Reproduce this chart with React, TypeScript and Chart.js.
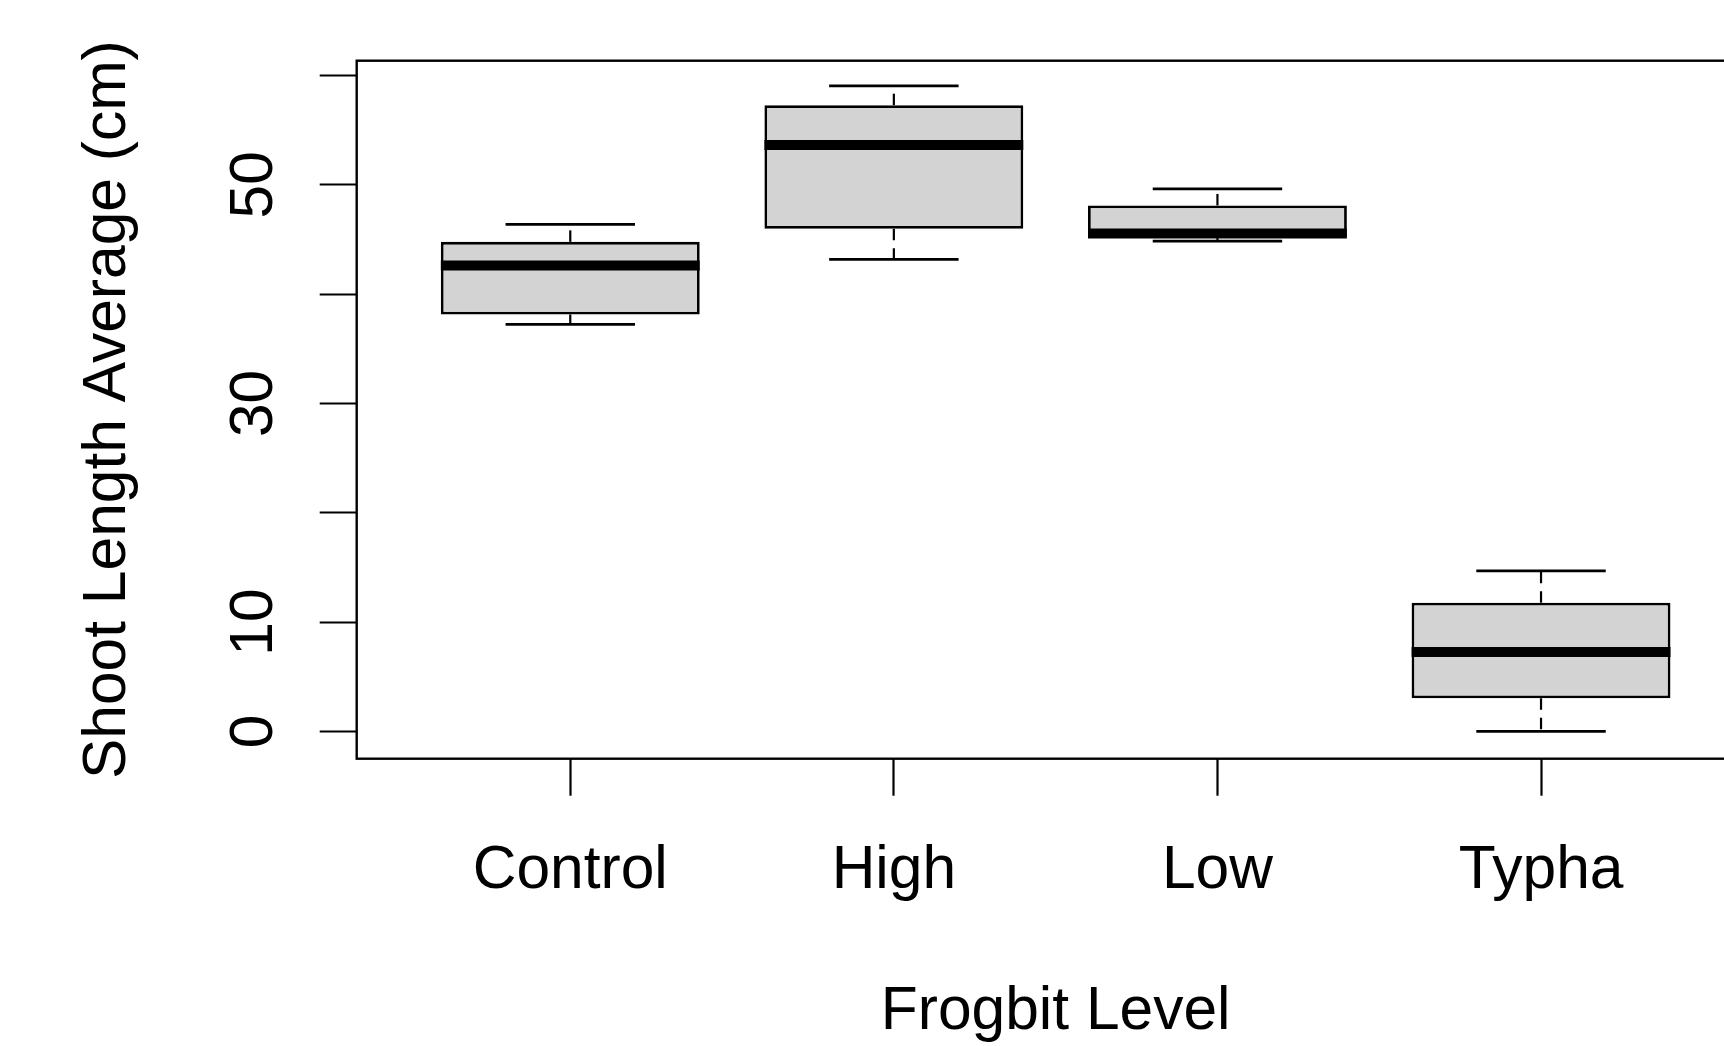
import React, { useEffect, useRef } from "react";
import { Chart, registerables } from "chart.js";

Chart.register(...registerables);

const categories = ["Control", "High", "Low", "Typha"];
const positions = [1, 2, 3, 4];
const lowerWhisker = [37.23, 43.17, 44.85, 0];
const q1 = [38.14, 45.97, 45.24, 3.02];
const median = [42.62, 53.65, 45.55, 7.25];
const q3 = [44.78, 57.28, 48.11, 11.76];
const upperWhisker = [46.38, 59.05, 49.63, 14.69];
const yTicks = [0, 10, 20, 30, 40, 50, 60];
const yTickLabels = [0, 10, 30, 50];

const FONT = "'Liberation Sans', Arial, sans-serif";
const FS = 60.5;

const boxPlugin = {
  id: "rboxplot",
  afterDatasetsDraw(chart: any) {
    const { ctx, chartArea, scales } = chart;
    const x = scales.x;
    const y = scales.y;
    ctx.save();
    ctx.strokeStyle = "#000";
    ctx.lineCap = "butt";
    positions.forEach((p, i) => {
      const cx = x.getPixelForValue(p);
      // dashed whiskers
      ctx.lineWidth = 2.2;
      ctx.setLineDash([11.5, 8]);
      ctx.beginPath();
      ctx.moveTo(cx, y.getPixelForValue(q3[i]));
      ctx.lineTo(cx, y.getPixelForValue(upperWhisker[i]));
      ctx.stroke();
      ctx.beginPath();
      ctx.moveTo(cx, y.getPixelForValue(q1[i]));
      ctx.lineTo(cx, y.getPixelForValue(lowerWhisker[i]));
      ctx.stroke();
      // caps
      ctx.setLineDash([]);
      ctx.lineWidth = 2.7;
      const cl = x.getPixelForValue(p - 0.2);
      const cr = x.getPixelForValue(p + 0.2);
      ctx.beginPath();
      ctx.moveTo(cl, y.getPixelForValue(upperWhisker[i]));
      ctx.lineTo(cr, y.getPixelForValue(upperWhisker[i]));
      ctx.moveTo(cl, y.getPixelForValue(lowerWhisker[i]));
      ctx.lineTo(cr, y.getPixelForValue(lowerWhisker[i]));
      ctx.stroke();
      // median
      ctx.lineWidth = 10;
      ctx.beginPath();
      ctx.moveTo(x.getPixelForValue(p - 0.4), y.getPixelForValue(median[i]));
      ctx.lineTo(x.getPixelForValue(p + 0.4), y.getPixelForValue(median[i]));
      ctx.stroke();
    });
    // frame
    ctx.lineWidth = 2.4;
    ctx.strokeRect(
      chartArea.left,
      chartArea.top,
      chartArea.right - chartArea.left,
      chartArea.bottom - chartArea.top
    );
    ctx.restore();
  },
};

export default function App() {
  const ref = useRef<HTMLCanvasElement | null>(null);

  useEffect(() => {
    if (!ref.current) return;
    const chart = new Chart(ref.current, {
      type: "bar",
      data: {
        datasets: [
          {
            data: positions.map((p, i) => ({ x: p, y: [q1[i], q3[i]] })) as any,
            backgroundColor: "#D3D3D3",
            borderColor: "#000",
            borderWidth: 2.8,
            borderSkipped: false,
            categoryPercentage: 0.8,
            barPercentage: 1.0,
          },
        ],
      },
      options: {
        responsive: false,
        animation: false,
        events: [],
        layout: { padding: { left: 0, top: 60.7, right: 5.4, bottom: 0 } },
        plugins: {
          legend: { display: false },
          tooltip: { enabled: false },
        },
        scales: {
          x: {
            type: "linear",
            min: 0.34,
            max: 4.66,
            offset: false,
            afterBuildTicks: (scale: any) => {
              scale.ticks = positions.map((v) => ({ value: v }));
            },
            afterFit: (scale: any) => {
              scale.height = 1046 - 758.7;
              scale.paddingLeft = 0;
              scale.paddingRight = 0;
            },
            grid: {
              offset: false,
              drawOnChartArea: false,
              drawTicks: true,
              tickLength: 37,
              tickWidth: 2.2,
              tickColor: "#000",
            },
            border: { display: false },
            ticks: {
              autoSkip: false,
              maxRotation: 0,
              minRotation: 0,
              padding: 39.3,
              color: "#000",
              font: { family: FONT, size: FS },
              callback: (v: any) => {
                const idx = positions.indexOf(Number(v));
                return idx >= 0 ? categories[idx] : "";
              },
            },
            title: {
              display: true,
              text: "Frogbit Level",
              color: "#000",
              font: { family: FONT, size: FS, lineHeight: 1.1 },
              padding: { top: 0, bottom: 0 },
            },
          },
          y: {
            type: "linear",
            min: -2.5,
            max: 61.35,
            afterBuildTicks: (scale: any) => {
              scale.ticks = yTicks.map((v) => ({ value: v }));
            },
            afterFit: (scale: any) => {
              scale.width = 356.7;
              scale.paddingTop = 0;
              scale.paddingBottom = 0;
            },
            grid: {
              drawOnChartArea: false,
              drawTicks: true,
              tickLength: 37,
              tickWidth: 2.2,
              tickColor: "#000",
            },
            border: { display: false },
            ticks: {
              autoSkip: false,
              minRotation: 90,
              maxRotation: 90,
              crossAlign: "center",
              padding: 30.3,
              color: "#000",
              font: { family: FONT, size: FS },
              callback: (v: any) =>
                yTickLabels.includes(Number(v)) ? String(v) : "",
            },
            title: {
              display: true,
              text: "Shoot Length Average (cm)",
              color: "#000",
              font: { family: FONT, size: FS, lineHeight: 1.2 },
              padding: { top: 71.7, bottom: 0 },
            },
          },
        },
      },
      plugins: [boxPlugin],
    });
    return () => chart.destroy();
  }, []);

  return (
    <div
      style={{
        position: "fixed",
        left: 0,
        top: 0,
        width: 1724,
        height: 1046,
        overflow: "hidden",
        background: "#fff",
      }}
    >
      <canvas
        ref={ref}
        width={1760}
        height={1046}
        style={{ display: "block", width: 1760, height: 1046 }}
      />
    </div>
  );
}
